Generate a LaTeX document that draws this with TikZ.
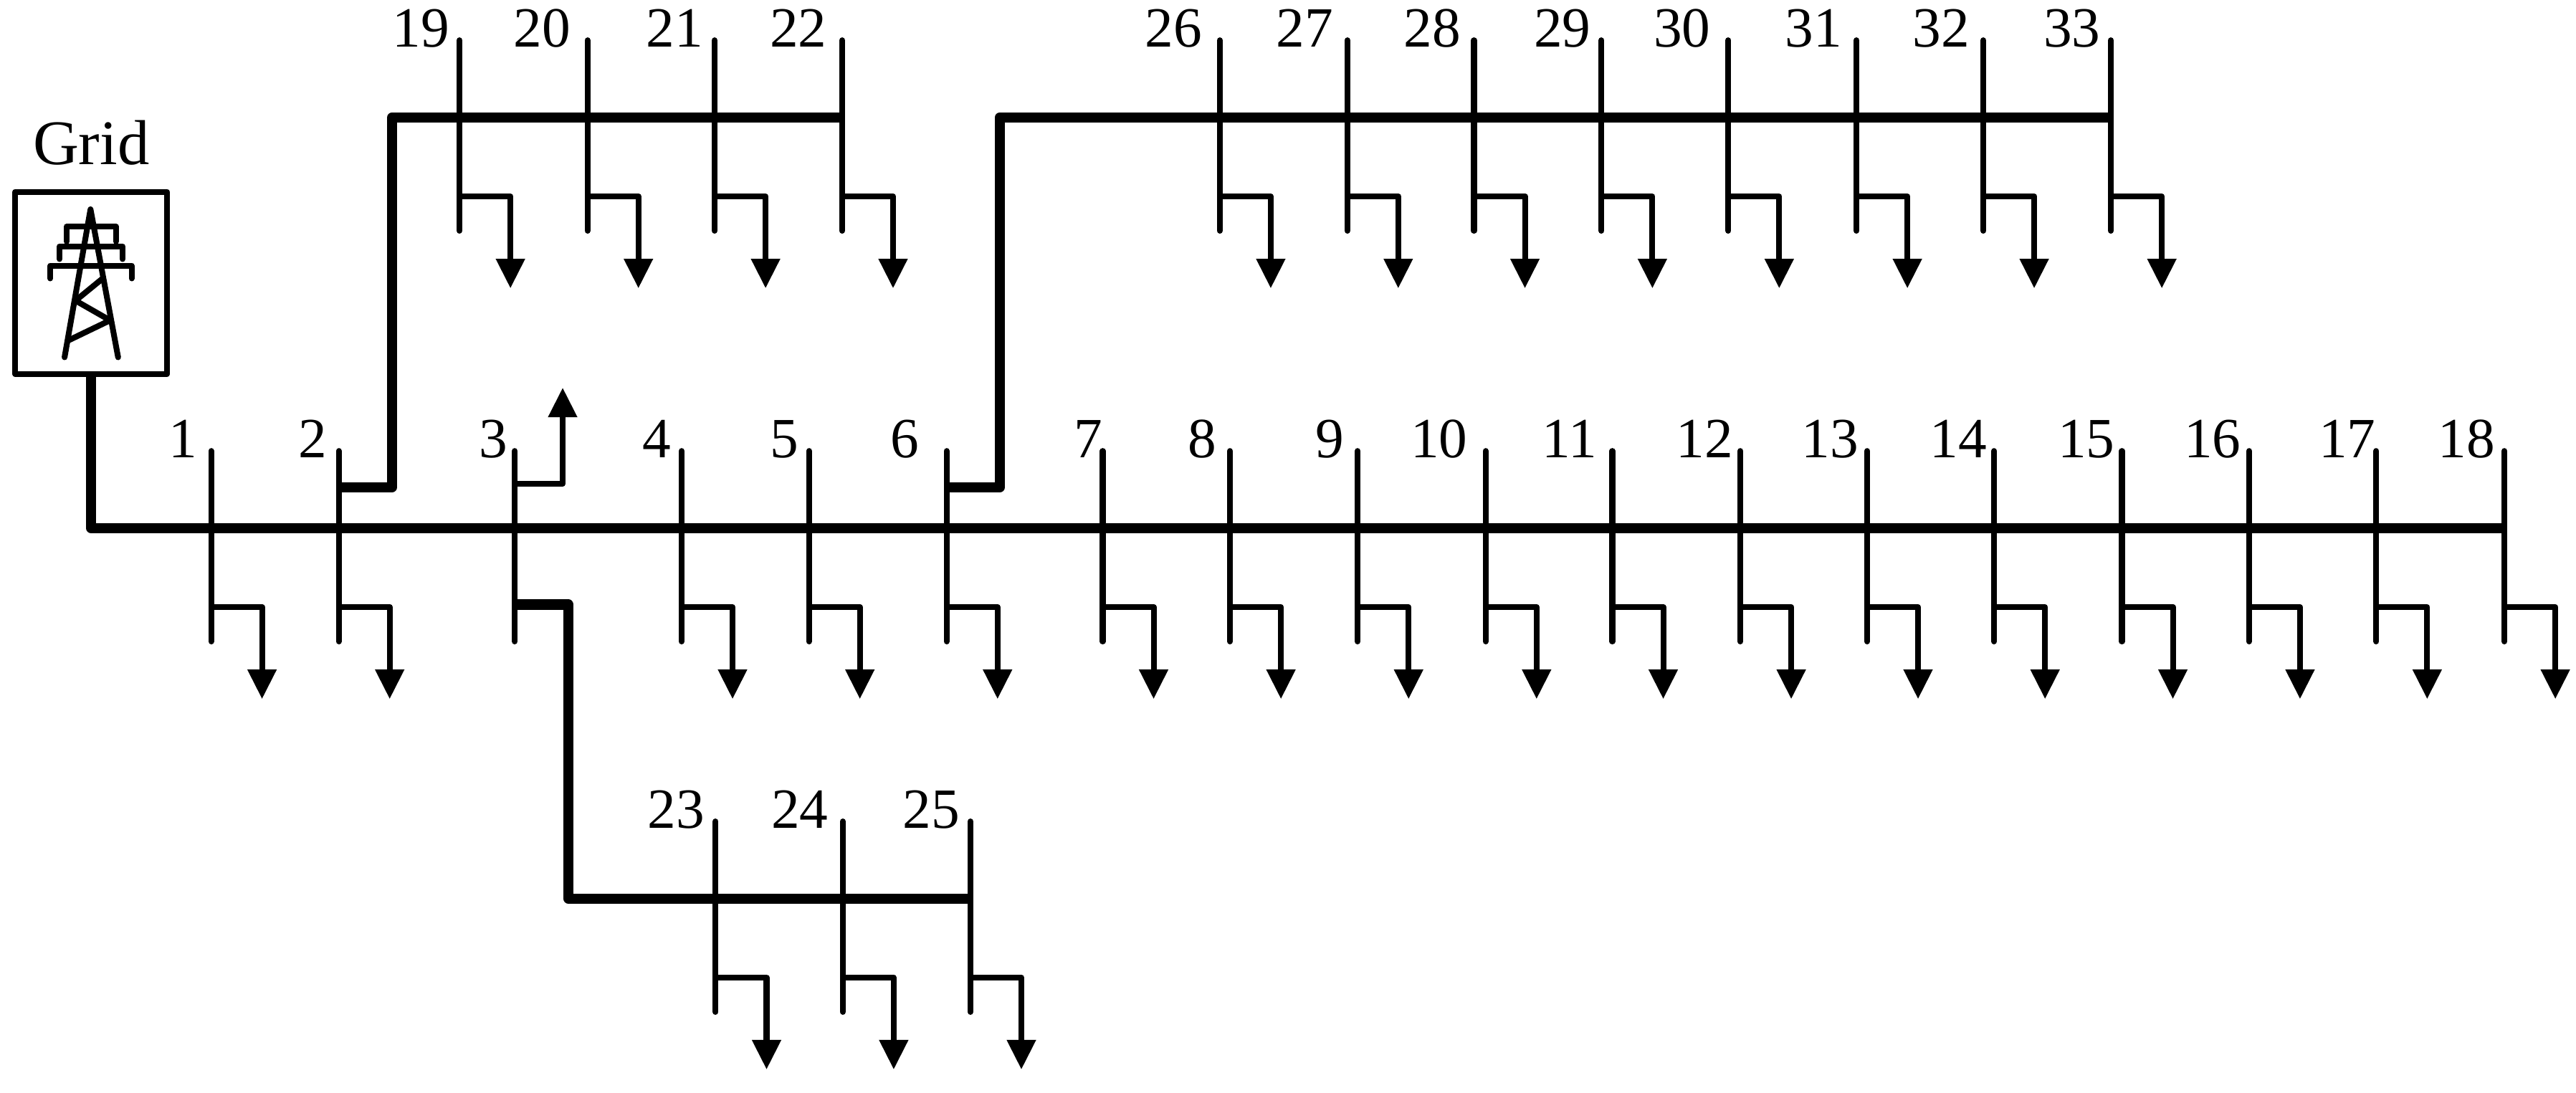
\documentclass[tikz,border=0pt]{standalone}
\usepackage{fontspec}
\setmainfont{Liberation Serif}
\usetikzlibrary{arrows.meta}

\begin{document}
\begin{tikzpicture}
	 [x=0.02cm,y=-0.02cm,line join=round,
	  wire/.style={line width=2pt,line cap=round},
	  feeder/.style={line width=3.5pt},
	  load/.style={line width=2pt,-{Triangle[length=0.36cm,width=0.34cm]}},
	  num/.style={anchor=base east,inner sep=0pt,font=\fontsize{19.7}{22}\selectfont}]

  \useasboundingbox (0,0) rectangle (1568,665.3);

  \node[draw,line width=2pt,minimum width=1.85cm,minimum height=2.218cm,inner sep=0pt] (grid) at (55.5,172.2) {};
  \node[anchor=base,inner sep=0pt,font=\fontsize{22}{26}\selectfont] (gridname) at (55.5,100) {Grid};

  \draw[wire] (39.3,217.5) -- (55.1,127.4) -- (71.9,217.5);
  \foreach \l/\r/\t/\b in {40.6/70.6/138/147,36.3/74.6/149.9/157.7,30.6/80.1/161.7/169.5}
    \draw[wire] (\l,\b) |- (\r,\t) -- (\r,\b);
  \draw[wire] (62.5,169.5) -- (46,183) -- (67,195) -- (41.5,207.3);

  \foreach \n/\px/\py/\d in {1/128.5/321.5/8,2/206.2/321.5/7,3/313.4/321.5/4,4/414.9/321.5/6,
      5/492.4/321.5/6,6/576.2/321.5/16.5,7/671.2/321.5/0,8/748.7/321.5/8,9/826.4/321.5/8,
      10/904.3/321.5/10.7,11/981.4/321.5/9,12/1059.3/321.5/4,13/1136.5/321.5/5,
      14/1213.8/321.5/4,15/1291.6/321.5/4,16/1369/321.5/4.6,17/1446.4/321.5/0,18/1524.4/321.5/5.5,
      19/279.7/71.5/5.7,20/357.6/71.5/9.9,21/435/71.5/6.7,22/512.6/71.5/9,
      23/435.6/547/6.4,24/513/547/8.5,25/590.7/547/6.3,
      26/742.5/71.5/10.5,27/820.1/71.5/8.4,28/897.2/71.5/7.8,29/974.8/71.5/6.1,
      30/1052/71.5/10.5,31/1130/71.5/8.3,32/1207.2/71.5/7.9,33/1284.9/71.5/6.1}
  {
    \coordinate (top\n) at (\px,\py-47);
    \coordinate (bus\n) at (\px,\py);
    \coordinate (bot\n) at (\px,\py+69);
    \coordinate (tap\n) at (\px,\py+48);
    \coordinate (ld\n) at (\px+31,\py+48);
    \coordinate (arr\n) at (\px+31,\py+104);
    \node[num] (n\n) at (\px-\d,\py-43) {\n};
    \draw[wire] (top\n) -- (bot\n);
    \ifnum\n=3 \else
      \draw[load] (tap\n) -- (ld\n) -- (arr\n);
    \fi
  }

  \coordinate (s2) at (206.2,296.5);
  \coordinate (j19) at (238.7,71.5);
  \coordinate (s6) at (576.2,296.7);
  \coordinate (j26) at (608.5,71.5);
  \coordinate (s3) at (313.4,368);
  \coordinate (j23) at (346,547);
  \coordinate (u3) at (313.4,294.5);
  \coordinate (v3) at (342.5,236);

  \draw[feeder] (grid.south) |- (bus18);
  \draw[feeder] (s2) -| (j19) -- (bus22);
  \draw[feeder] (s6) -| (j26) -- (bus33);
  \draw[feeder] (s3) -| (j23) -- (bus25);
  \draw[load] (u3) -| (v3);

\end{tikzpicture}
\end{document}
